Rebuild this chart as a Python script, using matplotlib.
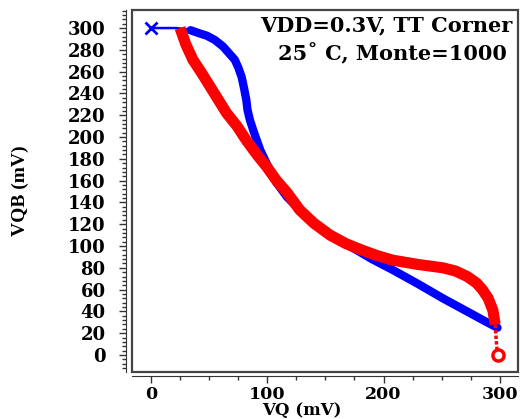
import matplotlib
matplotlib.use("Agg")
import matplotlib.pyplot as plt
from matplotlib.ticker import MultipleLocator
from matplotlib.patches import Rectangle

# blue curve: thin start, then the Monte Carlo band
blue_head_x = [0, 22, 30, 38]
blue_head_y = [300, 300, 299, 297]
blue_x = [34, 42, 48, 55, 62, 67, 72, 75, 78, 80, 82, 83, 85, 88, 91, 94, 98, 103,
          108, 117, 128, 140, 154, 174, 190, 208, 230, 251, 270, 289, 298]
blue_y = [298, 295, 293, 289, 283, 277, 271, 264, 255, 245, 234, 225, 216, 206, 197,
          188, 179, 168, 158, 145, 133, 121, 111, 98, 88, 78, 65, 52, 41, 30, 25]

# red curve: band, then thin tail down to 0
red_x = [25, 30, 36, 44, 51, 58, 65, 74, 82, 91, 100, 108, 117, 128, 140, 154, 168,
         182, 195, 208, 230, 251, 262, 272, 280, 285, 290, 294, 296]
red_y = [300, 285, 271, 258, 246, 234, 222, 210, 197, 184, 172, 160, 149, 133, 121,
         110, 102, 96, 91, 87, 83, 80, 77, 72, 66, 60, 52, 41, 28]
red_tail_x = [296, 297, 298]
red_tail_y = [28, 12, 0]

xticks = [0, 100, 200, 300]
yticks = list(range(0, 301, 20))

fig = plt.figure(figsize=(5.23, 4.19), dpi=100)
ax = fig.add_axes([0.2524, 0.1122, 0.738, 0.8638])

ax.plot(blue_head_x, blue_head_y, color="blue", lw=1.8, solid_capstyle="butt")
ax.plot(blue_x, blue_y, color="blue", lw=6, solid_capstyle="round", solid_joinstyle="round")
ax.plot([blue_head_x[0]], [blue_head_y[0]], marker="x", color="blue", ms=8, mew=2)
ax.plot(red_x, red_y, color="red", lw=8, solid_capstyle="butt", solid_joinstyle="round")
ax.plot(red_tail_x, red_tail_y, color="red", lw=2.5, ls=(0, (1, 0.6)))
ax.plot([red_tail_x[-1]], [red_tail_y[-1]], marker="o", mfc="white", mec="red",
        ms=8, mew=2.5, ls="none")

ax.set_xlim(-16.3, 315.6)
ax.set_ylim(-15.6, 316.5)

# box frame plus detached axis lines
for s in ["top", "right"]:
    ax.spines[s].set_visible(False)
ax.add_patch(Rectangle((0, 0), 1, 1, transform=ax.transAxes, fill=False,
                       lw=1.6, edgecolor="#444444", clip_on=False, zorder=5))
ax.spines["left"].set_position(("outward", 4))
ax.spines["bottom"].set_position(("outward", 3))
ax.spines["left"].set_color("#333333")
ax.spines["bottom"].set_color("#333333")

ax.set_xticks(xticks)
ax.set_yticks(yticks)
ax.xaxis.set_minor_locator(MultipleLocator(25))
ax.yaxis.set_minor_locator(MultipleLocator(4))
ax.tick_params(which="major", length=5, width=1, color="#333333")
ax.tick_params(which="minor", length=3, width=1, color="#333333")
ax.tick_params(axis="y", pad=10)
ax.tick_params(axis="x", pad=2)

for lab in ax.get_yticklabels():
    lab.set_fontfamily("DejaVu Serif")
    lab.set_fontweight("bold")
    lab.set_fontsize(13)
for lab in ax.get_xticklabels():
    lab.set_fontfamily("DejaVu Serif")
    lab.set_fontweight("bold")
    lab.set_fontsize(12.5)

ax.set_xlabel("VQ (mV)", fontfamily="DejaVu Serif", fontweight="bold", fontsize=12)
ax.xaxis.set_label_coords(0.44, -0.083)
ax.xaxis.label.set_va("top")
ax.set_ylabel("VQB (mV)", fontfamily="Liberation Serif", fontweight="bold", fontsize=14, labelpad=28)

ax.text(0.985, 0.985, "VDD=0.3V, TT Corner", transform=ax.transAxes, ha="right", va="top",
        fontfamily="DejaVu Serif", fontweight="bold", fontsize=15)
ax.text(0.972, 0.91, "25\u02da C, Monte=1000", transform=ax.transAxes, ha="right", va="top",
        fontfamily="DejaVu Serif", fontweight="bold", fontsize=15)

fig.savefig("out.png", dpi=100)
